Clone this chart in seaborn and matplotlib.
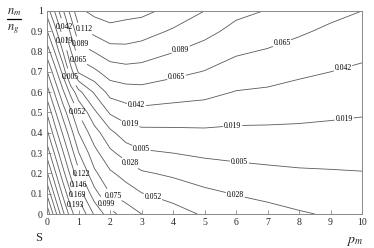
import matplotlib
matplotlib.use("Agg")
import matplotlib.pyplot as plt
import seaborn as sns
import numpy as np
import pandas as pd

# grid: p_m along x, n_m/n_g along y
p_m = [0, 0.25, 0.5, 0.75, 1, 1.5, 2, 2.5, 3, 4, 5, 6, 7, 8, 9, 10]
ratio = [0, 0.1, 0.2, 0.3, 0.4, 0.5, 0.6, 0.7, 0.8, 0.9, 1.0]

# S values along each p_m column (bottom -> top)
s_p0 = [0.375, 0.330, 0.290, 0.254, 0.221, 0.190, 0.157, 0.123, 0.088, 0.053, 0.018]
s_p025 = [0.320, 0.280, 0.245, 0.212, 0.180, 0.150, 0.118, 0.085, 0.050, 0.015, -0.022]
s_p05 = [0.270, 0.235, 0.202, 0.172, 0.143, 0.113, 0.080, 0.045, 0.005, -0.030, -0.062]
s_p075 = [0.228, 0.195, 0.163, 0.135, 0.108, 0.080, 0.045, -0.010, -0.040, -0.070, -0.097]
s_p1 = [0.192, 0.160, 0.128, 0.100, 0.075, 0.050, 0.012, -0.045, -0.078, -0.105, -0.130]
s_p15 = [0.143, 0.108, 0.080, 0.060, 0.038, 0.010, -0.022, -0.060, -0.090, -0.118, -0.142]
s_p2 = [0.107, 0.075, 0.056, 0.033, 0.011, -0.022, -0.050, -0.076, -0.102, -0.128, -0.145]
s_p25 = [0.088, 0.064, 0.043, 0.019, -0.008, -0.031, -0.055, -0.080, -0.104, -0.126, -0.142]
s_p3 = [0.075, 0.053, 0.031, 0.009, -0.013, -0.035, -0.057, -0.079, -0.101, -0.122, -0.141]
s_p4 = [0.062, 0.043, 0.024, 0.005, -0.014, -0.033, -0.052, -0.071, -0.090, -0.109, -0.128]
s_p5 = [0.049, 0.033, 0.017, 0.001, -0.015, -0.032, -0.048, -0.064, -0.080, -0.096, -0.112]
s_p6 = [0.040, 0.027, 0.013, -0.001, -0.014, -0.028, -0.041, -0.055, -0.068, -0.082, -0.095]
s_p7 = [0.035, 0.023, 0.010, -0.002, -0.014, -0.027, -0.039, -0.051, -0.063, -0.076, -0.088]
s_p8 = [0.030, 0.019, 0.008, -0.003, -0.014, -0.025, -0.035, -0.046, -0.057, -0.068, -0.079]
s_p9 = [0.026, 0.016, 0.007, -0.003, -0.013, -0.023, -0.032, -0.042, -0.052, -0.061, -0.071]
s_p10 = [0.024, 0.015, 0.006, -0.003, -0.012, -0.021, -0.029, -0.038, -0.047, -0.056, -0.065]

levels = [-0.135, -0.112, -0.089, -0.065, -0.042, -0.019, 0.005, 0.028, 0.052,
          0.075, 0.099, 0.122, 0.146, 0.169, 0.193, 0.216, 0.240, 0.263, 0.287,
          0.310, 0.334, 0.357]

# where the labels sit on the lines
label_spots = [(0.57, 0.92), (1.22, 0.92), (0.50, 0.85), (1.12, 0.85), (1.0, 0.76),
               (0.75, 0.673), (0.94, 0.50), (1.0, 0.19), (1.0, 0.14), (0.92, 0.09),
               (0.92, 0.045), (2.1, 0.09), (1.87, 0.045), (4.29, 0.79), (4.13, 0.66),
               (2.83, 0.53), (2.63, 0.44), (3.0, 0.325), (2.63, 0.25), (3.37, 0.09),
               (7.46, 0.84), (9.43, 0.70), (5.9, 0.42), (9.43, 0.47), (6.1, 0.25),
               (5.97, 0.09)]

df = pd.DataFrame({p: col for p, col in zip(p_m, [s_p0, s_p025, s_p05, s_p075, s_p1, s_p15,
                                                   s_p2, s_p25, s_p3, s_p4, s_p5, s_p6,
                                                   s_p7, s_p8, s_p9, s_p10])}, index=ratio)

sns.set_style("ticks")
plt.rcParams['font.family'] = ['Liberation Serif', 'DejaVu Serif']
plt.rcParams['mathtext.fontset'] = 'stix'

fig = plt.figure(figsize=(3.74, 2.48), dpi=100)
ax = fig.add_axes([0.126, 0.137, 0.842, 0.819])

cs = ax.contour(df.columns.values, df.index.values, df.values, levels=levels,
                colors='#5a5a5a', linewidths=0.6, linestyles='solid')
labels = ax.clabel(cs, fmt=lambda v: f"{abs(v):.3f}", manual=label_spots,
                   inline=True, inline_spacing=1, fontsize=5.6, colors='black')
for t in labels:
    t.set_rotation(0)

ax.set_xlim(0, 10)
ax.set_ylim(0, 1)
ax.set_xticks(range(0, 11))
ax.set_yticks([0, 0.1, 0.2, 0.3, 0.4, 0.5, 0.6, 0.7, 0.8, 0.9, 1])
ax.set_yticklabels(['0', '0.1', '0.2', '0.3', '0.4', '0.5', '0.6', '0.7', '0.8', '0.9', '1'])
ax.tick_params(direction='in', length=3, width=0.6, color='#888888', labelsize=7, pad=3)
for sp in ax.spines.values():
    sp.set_color('#888888')
    sp.set_linewidth(0.7)
    sp.set_visible(True)

# n_m / n_g fraction in the top-left corner
fig.text(0.038, 0.929, r"$\mathbf{\it n}_{m}$", fontsize=9, ha='center', va='bottom')
fig.add_artist(plt.Line2D([0.019, 0.057], [0.923, 0.923], color='black', linewidth=0.9))
fig.text(0.036, 0.910, r"$\mathbf{\it n}_{g}$", fontsize=9, ha='center', va='top')
fig.text(0.093, 0.028, "S", fontsize=9)
fig.text(0.925, 0.022, r"$p_{m}$", fontsize=10)

fig.savefig("out.png", dpi=100)
